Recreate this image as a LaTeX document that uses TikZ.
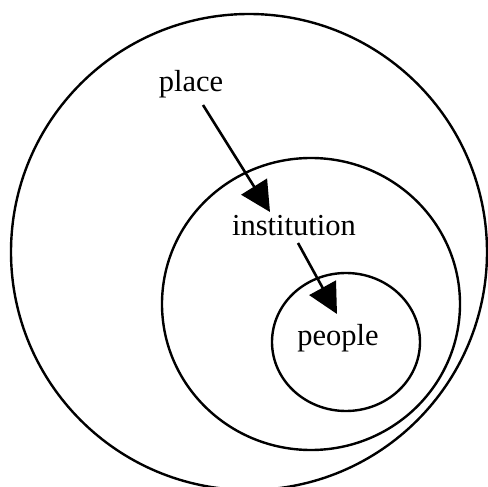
\documentclass[tikz,border=0pt]{standalone}
\usepackage{fontspec}
\setmainfont{Liberation Serif}
\usetikzlibrary{arrows.meta}
\tikzset{
  ring/.style={draw=black, line width=2.4pt},
  lbl/.style={font=\fontsize{30.5}{36}\selectfont, inner sep=0pt},
  arr/.style={draw=black, line width=2.6pt, -{Triangle[length=30pt,width=30pt]}}
}
\begin{document}
\begin{tikzpicture}[x=1pt,y=-1pt]
\useasboundingbox (0,0) rectangle (488,487);
\clip (0,0) rectangle (488,487);
\draw[ring] (249,252) circle [radius=238];
\draw[ring] (311,304) ellipse [x radius=149, y radius=146];
\draw[ring] (346,342) ellipse [x radius=74, y radius=69];
\node[lbl] (place) at (191,84) {place};
\node[lbl] (institution) at (294,226) {institution};
\node[lbl] (people) at (338,338) {people};
\draw[arr] ([xshift=12pt,yshift=-21pt]place.center) -- ([xshift=-24pt,yshift=14pt]institution.center);
\draw[arr] ([xshift=4pt,yshift=-17pt]institution.center) -- ([xshift=-1pt,yshift=24pt]people.center);
\end{tikzpicture}
\end{document}
